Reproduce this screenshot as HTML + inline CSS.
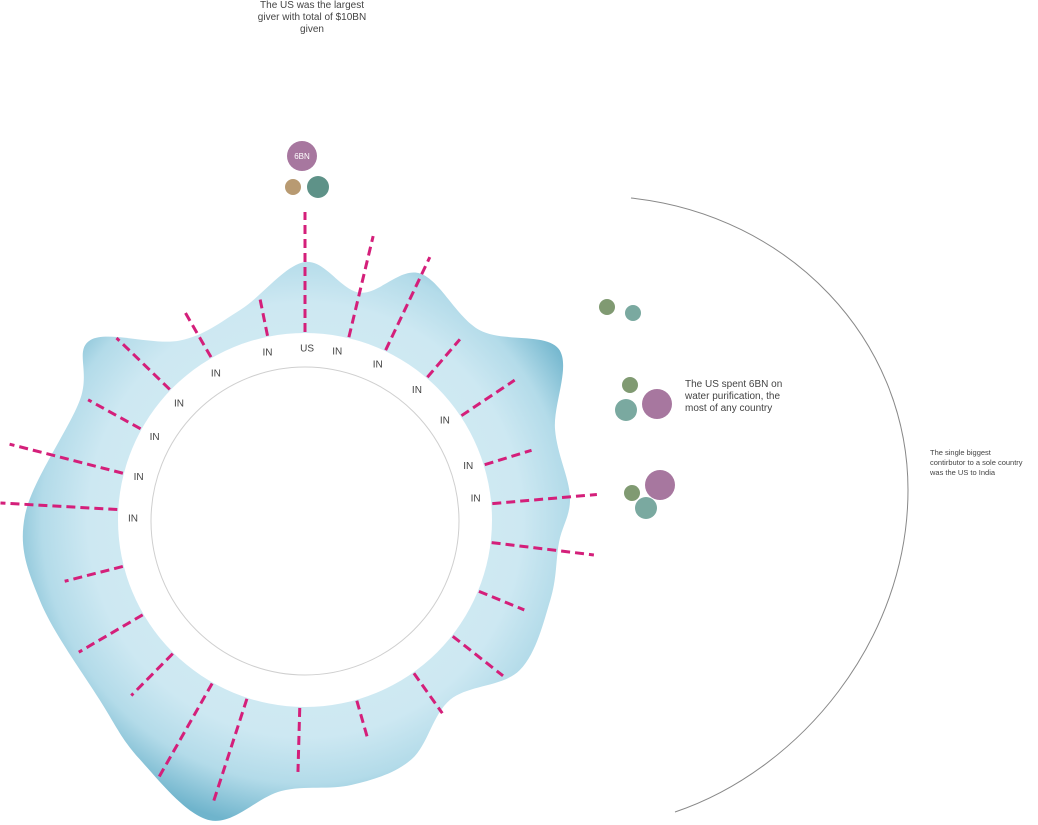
<!DOCTYPE html>
<html><head><meta charset="utf-8"><style>
body{margin:0;background:#fff;}
svg{display:block;font-family:"Liberation Sans",sans-serif;}
</style></head><body>
<svg id="chart" width="1038" height="825" viewBox="0 0 1038 825">
<defs>
<radialGradient id="blobGrad" gradientUnits="userSpaceOnUse" cx="305" cy="520" r="310">
<stop offset="0" stop-color="#d8eff6"/>
<stop offset="0.7" stop-color="#cde8f2"/>
<stop offset="0.85" stop-color="#b3dbe9"/>
<stop offset="1" stop-color="#6fb4cc"/>
</radialGradient>
</defs>
<path id="blob" fill="url(#blobGrad)"/>
<circle cx="305" cy="520" r="187" fill="#fff"/>
<circle cx="305" cy="521" r="154" fill="none" stroke="#cfcfcf" stroke-width="1"/>
<g id="spokes"></g>
<g id="labels"></g>
<g id="bubbles"></g>
<path d="M631,198 C790,215 908,340 908,490 C908,640 800,770 675,812" fill="none" stroke="#888" stroke-width="1"/>
<text font-size="10" fill="#444" text-anchor="middle"><tspan x="312" y="8">The US was the largest</tspan><tspan x="312" y="20">giver with total of $10BN</tspan><tspan x="312" y="32">given</tspan></text>
<text font-size="10" fill="#444"><tspan x="685" y="387">The US spent 6BN on</tspan><tspan x="685" y="399">water purification, the</tspan><tspan x="685" y="411">most of any country</tspan></text>
<text font-size="7.5" fill="#444"><tspan x="930" y="455">The single biggest</tspan><tspan x="930" y="465">contirbutor to a sole country</tspan><tspan x="930" y="475">was the US to India</tspan></text>
</svg>
<script>
const spokeAngles=[0,13.5,25.4,40.6,56.3,72.9,85,96.9,112.3,128.2,144.6,164,181.6,198,209.6,224.7,239.7,255.7,273.2,284.4,299,314,330,348.5];
const spokeValues=[308,292,291,238,252,237,293,291,237,252,237,225,252,298,298,247,262,248,305,305,248,262,243,226];
const labelAngles=[270.6,284.7,299,312.9,328.8,347.4,0.7,10.8,25,40.6,54.4,71.6,82.6];
const labelTexts=["IN","IN","IN","IN","IN","IN","US","IN","IN","IN","IN","IN","IN"];
const blobAngles=[0,13.6,25,42.6,56,70,85,95,108,125,141,156,170,185,197.6,214.5,228.7,253,271,298,310,325,343];
const blobRadii=[258,234,272,258,306,266,266,255,258,262,231,262,269,272,315,291,273,277,280,255,280,219,220];
const bubbleX=[302,293,318,607,633,630,626,657,660,632,646];
const bubbleY=[156,187,187,307,313,385,410,404,485,493,508];
const bubbleR=[15,8,11,8,8,8,11,15,15,8,11];
const bubbleColor=["#a7779f","#b89a72","#5e9288","#809a72","#7aa9a0","#809a72","#7aa9a0","#a7779f","#a7779f","#809a72","#7aa9a0"];
const CX=305,CY=520,RIN=187;
const NS="http://www.w3.org/2000/svg";
function pt(a,r){const t=a*Math.PI/180;return [CX+r*Math.sin(t),CY-r*Math.cos(t)];}
(function(){
  const p=blobAngles.map((a,i)=>pt(a,blobRadii[i]));const n=p.length;
  let d="M"+p[0][0].toFixed(1)+","+p[0][1].toFixed(1);
  for(let i=0;i<n;i++){
    const p0=p[(i-1+n)%n],p1=p[i],p2=p[(i+1)%n],p3=p[(i+2)%n];
    const c1=[p1[0]+(p2[0]-p0[0])/6,p1[1]+(p2[1]-p0[1])/6];
    const c2=[p2[0]-(p3[0]-p1[0])/6,p2[1]-(p3[1]-p1[1])/6];
    d+=" C"+c1.map(v=>v.toFixed(1))+" "+c2.map(v=>v.toFixed(1))+" "+p2.map(v=>v.toFixed(1));
  }
  document.getElementById('blob').setAttribute('d',d+"Z");
})();
const sg=document.getElementById('spokes');
spokeAngles.forEach((a,i)=>{
  const s=pt(a,RIN+1),e=pt(a,spokeValues[i]);
  const l=document.createElementNS(NS,'line');
  
  
  l.setAttribute('x1',s[0]);l.setAttribute('y1',s[1]);l.setAttribute('x2',e[0]);l.setAttribute('y2',e[1]);
  l.setAttribute('stroke','#d41f7a');l.setAttribute('stroke-width','3');l.setAttribute('stroke-dasharray','9,5');
  sg.appendChild(l);
});
const lg=document.getElementById('labels');
labelAngles.forEach((a,i)=>{
  const p=pt(a,172);
  const t=document.createElementNS(NS,'text');
  
  
  t.setAttribute('x',p[0]);t.setAttribute('y',p[1]+3.5);t.setAttribute('text-anchor','middle');
  t.setAttribute('font-size','10');t.setAttribute('fill','#444');
  t.textContent=labelTexts[i];lg.appendChild(t);
});
const bg=document.getElementById('bubbles');
bubbleX.forEach((x,i)=>{
  const c=document.createElementNS(NS,'circle');
  
  
  c.setAttribute('cx',x);c.setAttribute('cy',bubbleY[i]);c.setAttribute('r',bubbleR[i]);c.setAttribute('fill',bubbleColor[i]);
  bg.appendChild(c);
});
const bt=document.createElementNS(NS,'text');


bt.setAttribute('x',bubbleX[0]);bt.setAttribute('y',bubbleY[0]+3);bt.setAttribute('text-anchor','middle');
bt.setAttribute('font-size','8');bt.setAttribute('fill','#fff');bt.textContent='6BN';bg.appendChild(bt);
</script>
</body></html>
